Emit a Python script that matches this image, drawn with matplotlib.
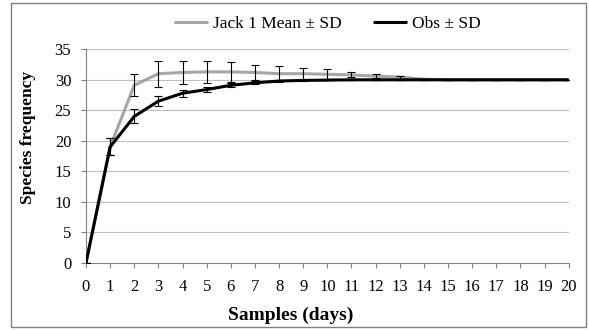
import matplotlib
matplotlib.use("Agg")
import matplotlib.pyplot as plt
from matplotlib.patches import Rectangle

days = list(range(0, 21))
jack_mean = [0, 19.0, 29.1, 31.0, 31.2, 31.3, 31.3, 31.2, 31.0, 31.0, 30.9, 30.8, 30.6, 30.45, 30.1,
             30.0, 30.0, 30.0, 30.0, 30.0, 30.0]
jack_sd = [0, 1.4, 1.8, 2.1, 1.9, 1.75, 1.6, 1.3, 1.25, 1.0, 0.8, 0.4, 0.3, 0.25, 0.0,
           0, 0, 0, 0, 0, 0]
obs_mean = [0, 19.0, 24.0, 26.5, 27.8, 28.4, 29.1, 29.5, 29.8, 29.9, 29.95, 30.0, 30.0, 30.0, 30.0,
            30.0, 30.0, 30.0, 30.0, 30.0, 30.0]
obs_sd = [0, 1.4, 1.15, 0.85, 0.6, 0.45, 0.3, 0.25, 0.2, 0.1, 0.05, 0, 0, 0, 0,
          0, 0, 0, 0, 0, 0]
yticks = [0, 5, 10, 15, 20, 25, 30, 35]

plt.rcParams['font.family'] = ['Liberation Serif', 'DejaVu Serif']

W, H = 589, 330
fig = plt.figure(figsize=(W / 100, H / 100), dpi=100)
ax = fig.add_axes([86 / W, 1 - 262.8 / H, (568.7 - 86) / W, (262.8 - 49.3) / H])

gray = '#A6A6A6'
ax.plot(days, jack_mean, color=gray, lw=2.2, label='Jack 1 Mean ± SD', zorder=3, solid_capstyle='butt')
ax.errorbar(days, jack_mean, yerr=jack_sd, fmt='none', ecolor='black', elinewidth=0.8,
            capsize=3.2, capthick=0.8, zorder=4)
ax.plot(days, obs_mean, color='black', lw=2.2, label='Obs ± SD', zorder=5, solid_capstyle='butt')
ax.errorbar(days, obs_mean, yerr=obs_sd, fmt='none', ecolor='black', elinewidth=0.8,
            capsize=3.2, capthick=0.8, zorder=6)

ax.set_xlim(0, 20)
ax.set_ylim(0, 35)
ax.set_xticks(days)
ax.set_yticks(yticks)
ax.tick_params(axis='both', labelsize=12, colors='#808080', labelcolor='black', length=3.6, width=0.8)
ax.tick_params(axis='y', pad=7)
ax.tick_params(axis='x', pad=8)
for y in yticks[1:]:
    ax.axhline(y, color='#BFBFBF', lw=0.8, zorder=1)
for s in ['top', 'right']:
    ax.spines[s].set_visible(False)
for s in ['left', 'bottom']:
    ax.spines[s].set_color('#808080')
    ax.spines[s].set_linewidth(0.8)

fig.text(28 / W, 1 - 137 / H, 'Species frequency', rotation=90, ha='center', va='center',
         fontsize=12.5, fontweight='bold')
fig.text(291 / W, 1 - 315 / H, 'Samples (days)', ha='center', va='center',
         fontsize=14, fontweight='bold')

fig.legend(loc='center', bbox_to_anchor=(327 / W, 1 - 24 / H), ncol=2, frameon=False,
           fontsize=12.5, handlelength=2.0, handletextpad=0.25, columnspacing=1.8)

fig.patches.append(Rectangle((10.5 / W, 3.5 / H), (586 - 10.5) / W, (327 - 3.5) / H,
                             transform=fig.transFigure, fill=False, edgecolor='#808080', lw=1))

fig.savefig('out.png', dpi=100)
